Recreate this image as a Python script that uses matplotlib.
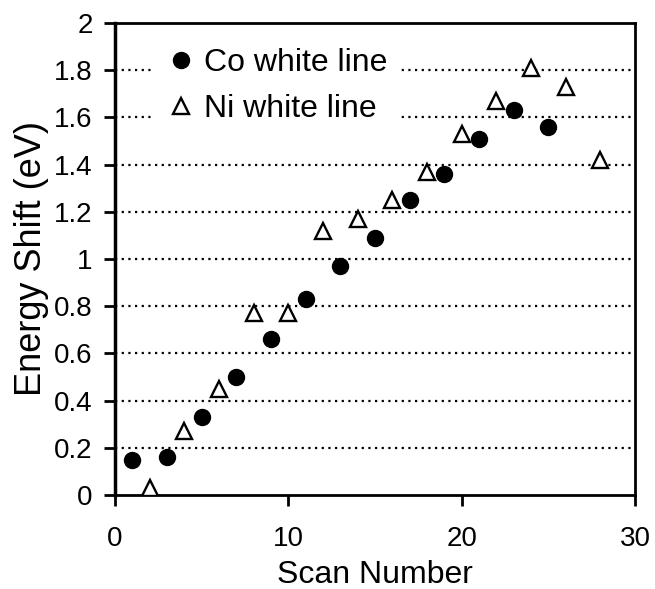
import matplotlib
matplotlib.use("Agg")
import matplotlib.pyplot as plt

# Datos
co_scan = [1, 3, 5, 7, 9, 11, 13, 15, 17, 19, 21, 23, 25]
co_shift = [0.15, 0.16, 0.33, 0.50, 0.66, 0.83, 0.97, 1.09, 1.25, 1.36, 1.51, 1.63, 1.56]

ni_scan = [2, 4, 6, 8, 10, 12, 14, 16, 18, 20, 22, 24, 26, 28]
ni_shift = [0.03, 0.27, 0.45, 0.77, 0.77, 1.12, 1.17, 1.25, 1.37, 1.53, 1.67, 1.81, 1.73, 1.42]

x_ticks = [0, 10, 20, 30]
y_ticks = [0, 0.2, 0.4, 0.6, 0.8, 1, 1.2, 1.4, 1.6, 1.8, 2]
y_tick_labels = ["0", "0.2", "0.4", "0.6", "0.8", "1", "1.2", "1.4", "1.6", "1.8", "2"]

plt.rcParams["font.family"] = ["Liberation Sans", "DejaVu Sans"]

fig = plt.figure(figsize=(6.55, 5.89), dpi=100)
ax = fig.add_axes([0.1756, 0.1596, 0.7939, 0.8014])

# Líneas de rejilla punteadas
for y in y_ticks[1:-1]:
    ax.axhline(y, color="black", linestyle=(0, (1, 2)), linewidth=1.6, zorder=1)

ax.plot(co_scan, co_shift, "o", color="black", markersize=11.5,
        label="Co white line", zorder=3)
ax.plot(ni_scan, ni_shift, "^", markerfacecolor="white", markeredgecolor="black",
        markeredgewidth=1.7, markersize=11.5, label="Ni white line", zorder=3)

ax.set_xlim(0, 30)
ax.set_ylim(0, 2)
ax.set_xticks(x_ticks)
ax.set_yticks(y_ticks)
ax.set_yticklabels(y_tick_labels)
ax.tick_params(axis="both", direction="out", length=8, width=2, labelsize=20,
               color="black")
ax.tick_params(axis="y", pad=8)
ax.tick_params(axis="x", pad=14)
for s in ax.spines.values():
    s.set_linewidth(2)
ax.spines["left"].set_linewidth(2.5)

ax.set_xlabel("Scan Number", fontsize=23, labelpad=6)
ax.set_ylabel("Energy Shift (eV)", fontsize=26, labelpad=4)

leg = ax.legend(loc="upper left", bbox_to_anchor=(0.071, 0.974), frameon=True,
                fontsize=23, handlelength=1.0, handletextpad=0.22,
                borderpad=0.4, labelspacing=0.5, borderaxespad=0)
leg.get_frame().set_facecolor("white")
leg.get_frame().set_edgecolor("white")
leg.get_frame().set_alpha(1)
leg.set_zorder(5)

plt.savefig("out.png", dpi=100)
plt.close()
